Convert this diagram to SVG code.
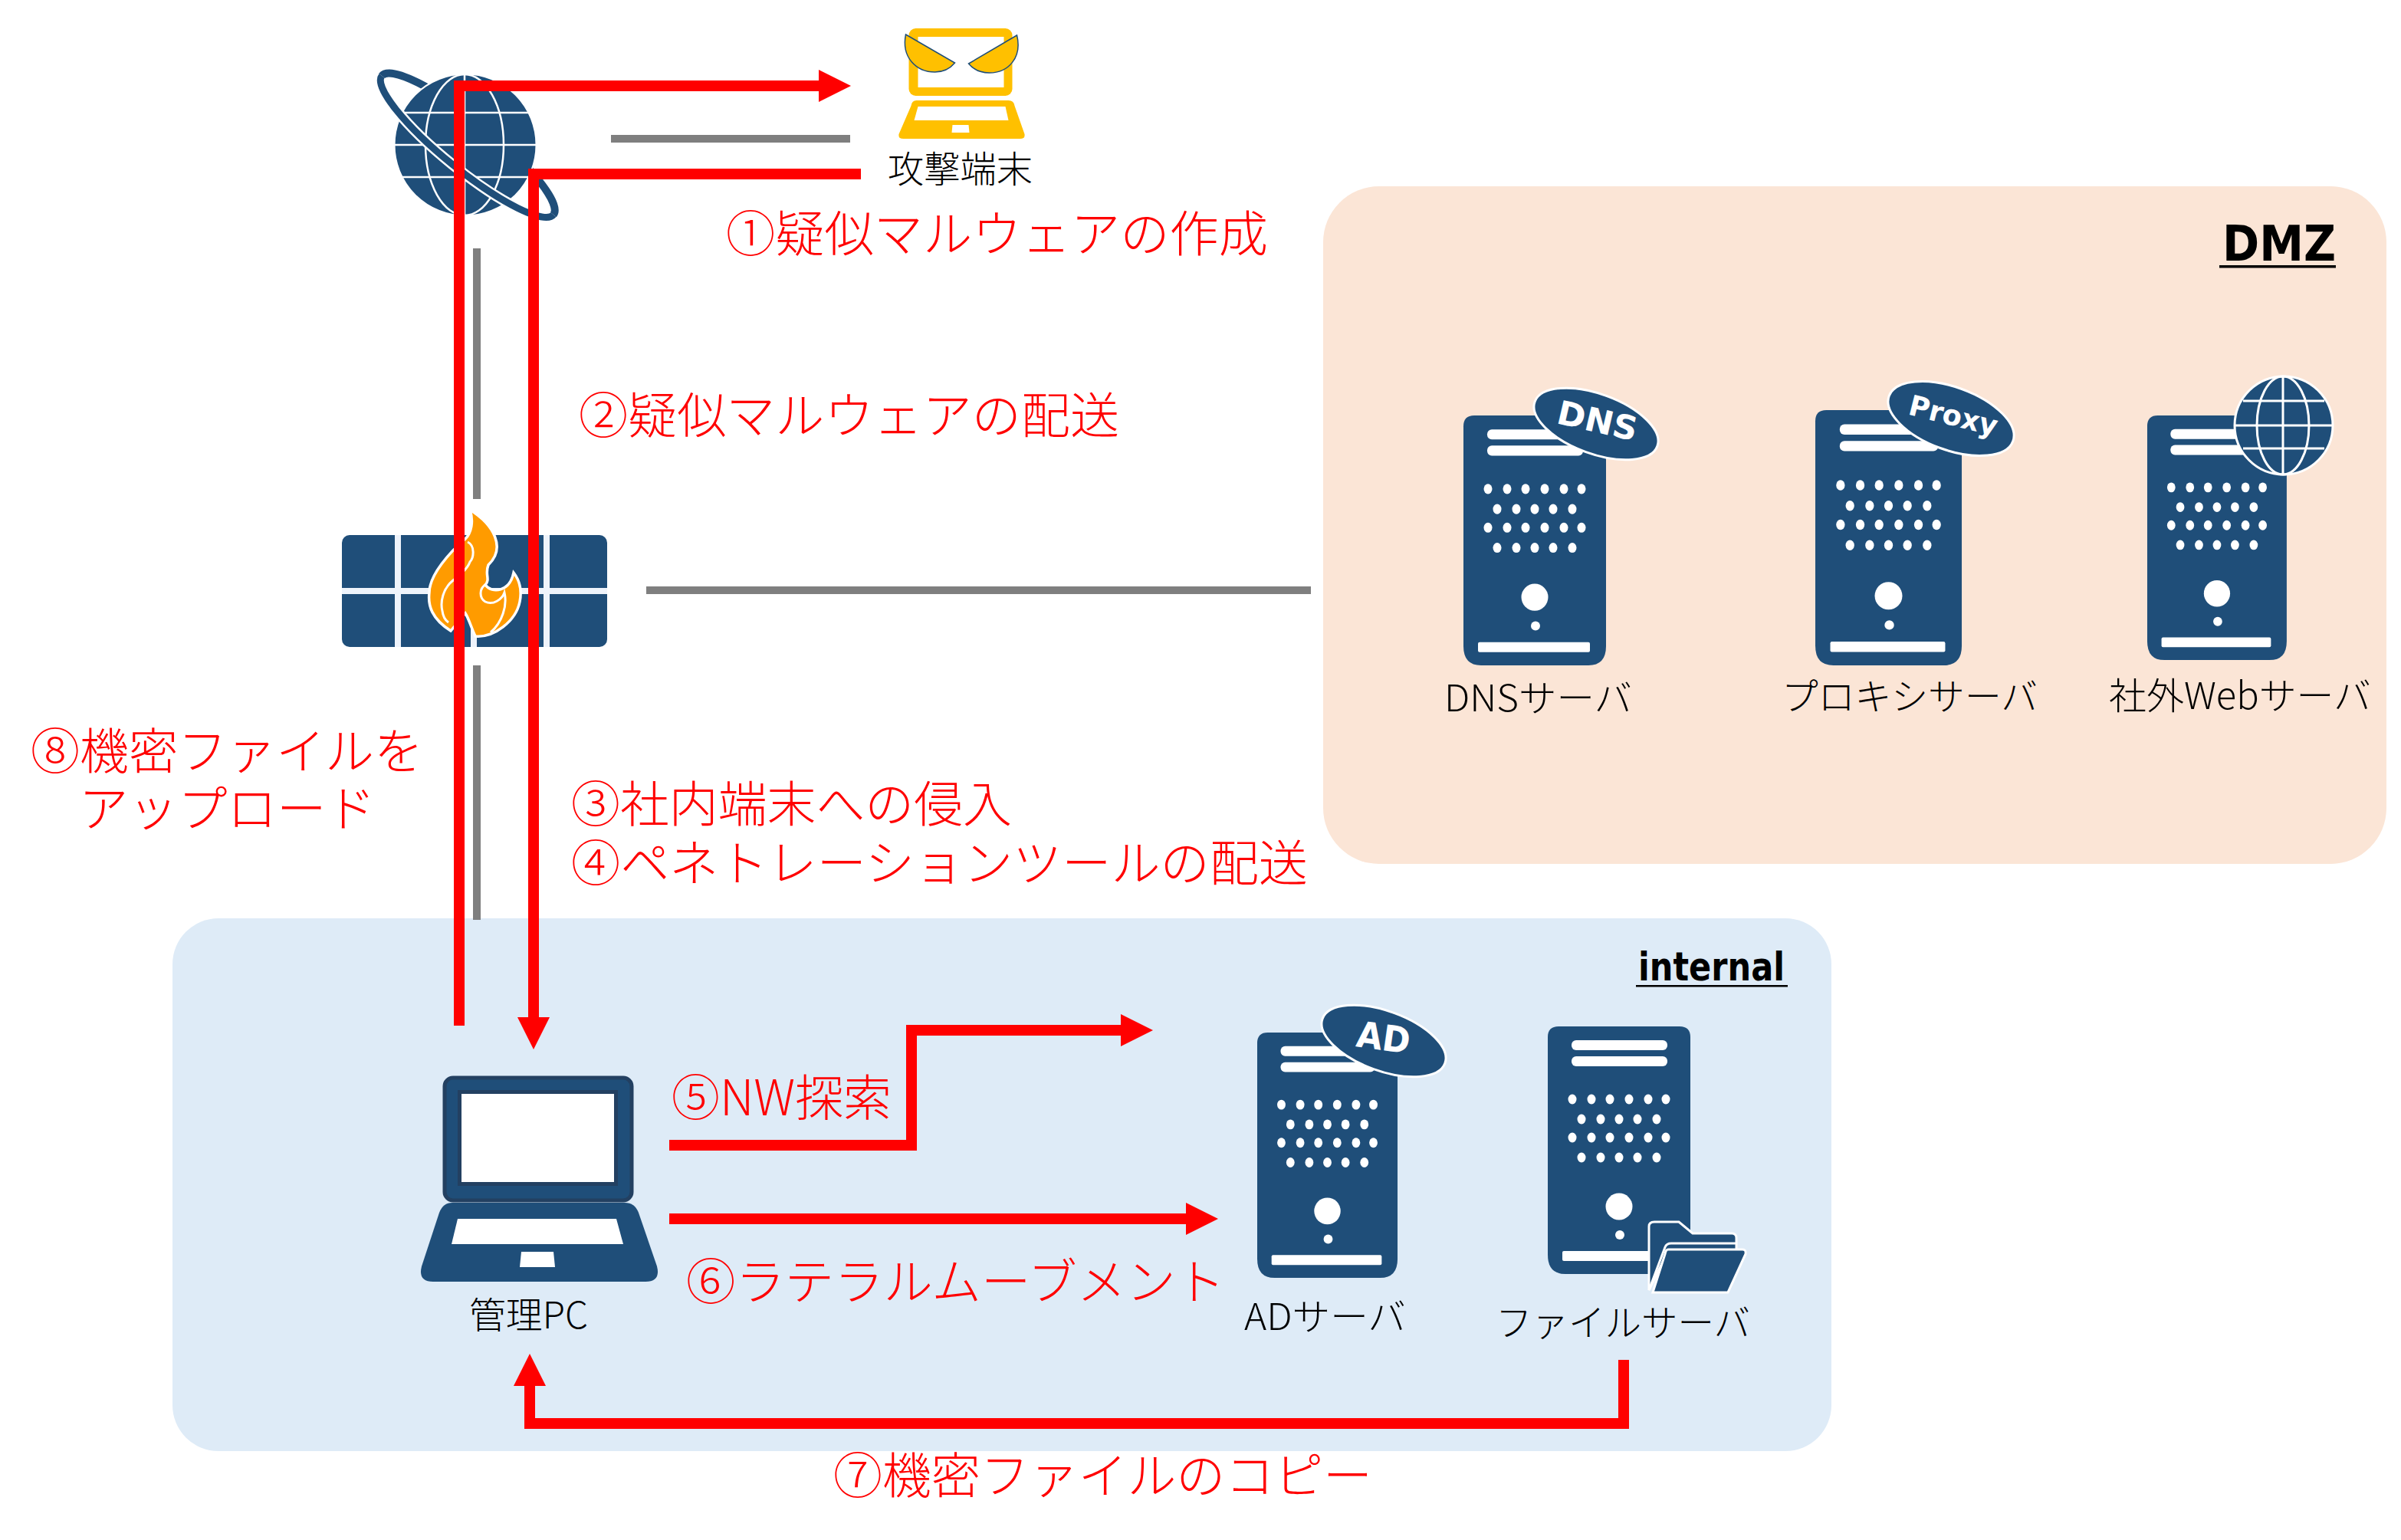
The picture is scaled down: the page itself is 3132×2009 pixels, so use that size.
<svg xmlns="http://www.w3.org/2000/svg" xmlns:xlink="http://www.w3.org/1999/xlink" width="3132" height="2009" viewBox="0 0 3132 2009">
<style>
text{font-family:"Noto Sans CJK JP","Noto Sans",sans-serif;font-weight:300}
.lbl{font-size:48px;fill:#000}
.step{font-size:64px;fill:#f00}
text.hd{font-family:"DejaVu Sans",sans-serif;font-weight:700;fill:#000}
text.tag{font-family:"DejaVu Sans",sans-serif;font-weight:700;fill:#fff}
.blue{fill:#1f4e79}
.wht{fill:#fff}
.grid{fill:none;stroke:#fff;stroke-width:3}
.badge{fill:#1f4e79;stroke:#fff;stroke-width:3}
.red{fill:none;stroke:#f00;stroke-width:14;stroke-linejoin:miter}
.arrow{marker-end:url(#head)}
.grey{fill:none;stroke:#7f7f7f;stroke-width:10}
.fl{fill:none;stroke:#fff;stroke-width:3}
</style>
<defs>
<marker id="head" viewBox="0 0 42 42" refX="0" refY="21" markerWidth="42" markerHeight="42" markerUnits="userSpaceOnUse" orient="auto"><path d="M0 0L42 21L0 42z" fill="#f00"/></marker>
<g id="srv">
<path class="blue" d="M14 0H172Q186 0 186 14V298Q186 323 163 323H23Q0 323 0 298V14Q0 0 14 0z"/>
<rect class="wht" x="31" y="18" width="125" height="13" rx="6"/>
<rect class="wht" x="31" y="39" width="125" height="13" rx="6"/>
<g class="wht">
<ellipse cx="32" cy="95" rx="5.5" ry="6.5"/><ellipse cx="57" cy="95" rx="5.5" ry="6.5"/><ellipse cx="81" cy="95" rx="5.5" ry="6.5"/><ellipse cx="106" cy="95" rx="5.5" ry="6.5"/><ellipse cx="131" cy="95" rx="5.5" ry="6.5"/><ellipse cx="154" cy="95" rx="5.5" ry="6.5"/>
<ellipse cx="44" cy="121" rx="5.5" ry="6.5"/><ellipse cx="69" cy="121" rx="5.5" ry="6.5"/><ellipse cx="93" cy="121" rx="5.5" ry="6.5"/><ellipse cx="117" cy="121" rx="5.5" ry="6.5"/><ellipse cx="142" cy="121" rx="5.5" ry="6.5"/>
<ellipse cx="32" cy="145" rx="5.5" ry="6.5"/><ellipse cx="57" cy="145" rx="5.5" ry="6.5"/><ellipse cx="81" cy="145" rx="5.5" ry="6.5"/><ellipse cx="106" cy="145" rx="5.5" ry="6.5"/><ellipse cx="131" cy="145" rx="5.5" ry="6.5"/><ellipse cx="154" cy="145" rx="5.5" ry="6.5"/>
<ellipse cx="44" cy="171" rx="5.5" ry="6.5"/><ellipse cx="69" cy="171" rx="5.5" ry="6.5"/><ellipse cx="93" cy="171" rx="5.5" ry="6.5"/><ellipse cx="117" cy="171" rx="5.5" ry="6.5"/><ellipse cx="142" cy="171" rx="5.5" ry="6.5"/>
<ellipse cx="93" cy="235" rx="17.5" ry="17.5"/><ellipse cx="94" cy="272" rx="6" ry="6"/>
<rect x="19" y="293" width="146" height="13" rx="2"/>
</g>
</g>
</defs>

<g id="panels">
<rect id="dmz-zone" x="1726" y="243" width="1387" height="884" rx="73" fill="#fbe5d6"/>
<rect id="internal-zone" x="225" y="1198" width="2164" height="695" rx="60" fill="#deebf7"/>
</g>
<g id="zone-labels">
<text class="hd" x="2899" y="340" font-size="64" textLength="148" lengthAdjust="spacingAndGlyphs">DMZ</text>
<rect x="2895" y="346" width="152" height="3.5" fill="#000"/>
<text class="hd" x="2137" y="1279" font-size="52" textLength="191" lengthAdjust="spacingAndGlyphs">internal</text>
<rect x="2134" y="1285" width="198" height="2.5" fill="#000"/>
</g>

<g id="internet">
<ellipse cx="610" cy="189.5" rx="144" ry="32" transform="rotate(39 610 189.5)" fill="none" stroke="#1f4e79" stroke-width="10"/>
<circle cx="607" cy="189" r="92.5" fill="#1f4e79" stroke="#fff" stroke-width="2"/>
<g class="grid" style="stroke-width:2.5">
<path d="M519 147H695M515 189H699M519 231H695M606 97V282"/>
<ellipse cx="606" cy="189" rx="51" ry="92"/>
</g>
<g transform="rotate(39 610 189.5)">
<path d="M466 189.5A144 32 0 0 0 754 189.5" fill="none" stroke="#fff" stroke-width="14"/>
<path d="M466 189.5A144 32 0 0 0 754 189.5" fill="none" stroke="#1f4e79" stroke-width="9"/>
</g>
</g>

<g id="attacker">
<g transform="translate(-4.5 0)">
<rect x="1190" y="37" width="135" height="88" rx="9" fill="#ffc000"/>
<rect x="1202" y="48" width="112" height="66" fill="#fff"/>
<path d="M1200 131H1320Q1327 131 1328 138L1341 175Q1342 181 1335 181H1183Q1176 181 1177 175L1193 138Q1194 131 1200 131z" fill="#ffc000"/>
<path d="M1202 139H1316L1320 157H1197z" fill="#fff"/>
<path d="M1247 163H1268L1269 173H1246z" fill="#fff"/>
<path d="M1186 45L1250 82Q1240 94 1224 94C1200 94 1180 75 1186 45z" fill="#ffc000" stroke="#1f4e79" stroke-width="1.5"/>
<path d="M1331 46L1268 83Q1278 95 1295 95C1320 95 1338 75 1331 46z" fill="#ffc000" stroke="#1f4e79" stroke-width="1.5"/>
</g>
<text class="lbl" x="1158" y="238" textLength="189" lengthAdjust="spacingAndGlyphs">攻撃端末</text>
</g>

<g id="firewall">
<rect x="446" y="698" width="346" height="146" rx="10" class="blue"/>
<path d="M519 698V844M618 698V844M713 698V844M446 771H792" fill="none" stroke="#eef3fb" stroke-width="8"/>
<path d="M613 665C645 685 660 715 637 737C632 750 640 755 633 763C642 775 665 772 670 747C680 760 680 775 678 785C673 810 645 832 620 830C613 815 612 808 607 800L588 823C563 807 558 790 560 773C560 750 587 720 607 703C615 695 618 680 613 665z" fill="#ff9b00" stroke="#fff" stroke-width="3.5"/>
<path class="fl" d="M610 707C620 712 618 728 613 733C610 742 600 750 590 758C578 768 574 785 577 797C578 805 582 810 585 812"/>
<path class="fl" d="M633 763C625 768 625 780 633 785C643 790 655 782 658 773C662 790 655 812 640 825"/>
</g>

<g id="dns-server">
<use xlink:href="#srv" href="#srv" transform="translate(1909 542) scale(1 1.009)"/>
<ellipse class="badge" cx="2082" cy="553" rx="85" ry="39" transform="rotate(20 2082 553)"/>
<text class="tag" x="2084" y="564" font-size="43" text-anchor="middle" transform="rotate(13 2084 548)" textLength="106" lengthAdjust="spacingAndGlyphs">DNS</text>
<text class="lbl" x="1884" y="928" textLength="245" lengthAdjust="spacingAndGlyphs">DNSサーバ</text>
</g>
<g id="proxy-server">
<use xlink:href="#srv" href="#srv" transform="translate(2368 535) scale(1.027 1.031)"/>
<ellipse class="badge" cx="2545" cy="546" rx="86" ry="41" transform="rotate(20 2545 546)"/>
<text class="tag" x="2548" y="555" font-size="37" text-anchor="middle" transform="rotate(14 2548 543)" textLength="118" lengthAdjust="spacingAndGlyphs">Proxy</text>
<text class="lbl" x="2324" y="926" textLength="334" lengthAdjust="spacingAndGlyphs">プロキシサーバ</text>
</g>
<g id="web-server">
<use xlink:href="#srv" href="#srv" transform="translate(2801 542) scale(.978 .988)"/>
<circle cx="2979" cy="555" r="64" class="badge"/>
<g class="grid">
<path d="M2926 523H3032M2915 555H3043M2926 585H3032M2978 491V619"/>
<ellipse cx="2978" cy="555" rx="34" ry="64"/>
</g>
<text class="lbl" x="2751" y="925" textLength="342" lengthAdjust="spacingAndGlyphs">社外Webサーバ</text>
</g>
<g id="ad-server">
<use xlink:href="#srv" href="#srv" transform="translate(1640 1347) scale(.984 .991)"/>
<ellipse class="badge" cx="1805" cy="1358" rx="85" ry="39" transform="rotate(20 1805 1358)"/>
<text class="tag" x="1805" y="1370" font-size="47" text-anchor="middle" transform="rotate(8 1805 1352)" textLength="70" lengthAdjust="spacingAndGlyphs">AD</text>
<text class="lbl" x="1623" y="1735" textLength="211" lengthAdjust="spacingAndGlyphs">ADサーバ</text>
</g>
<g id="file-server">
<use xlink:href="#srv" href="#srv" transform="translate(2019 1339)"/>
<path class="badge" d="M2151 1683V1600Q2151 1594 2158 1594H2190L2208 1609H2259Q2265 1609 2265 1615V1640H2172z"/>
<path d="M2151 1683L2172 1627Q2174 1622 2180 1622H2266" fill="none" stroke="#fff" stroke-width="3"/>
<path class="badge" d="M2176 1630H2273Q2278 1630 2277 1636L2254 1686H2156L2172 1636Q2173 1630 2176 1630z"/>
<text class="lbl" x="1951" y="1743" textLength="332" lengthAdjust="spacingAndGlyphs">ファイルサーバ</text>
</g>
<g id="admin-pc">
<rect x="580" y="1406" width="244" height="160" rx="11" fill="#1f4e79" stroke="#234061" stroke-width="5"/>
<rect x="597" y="1422" width="209" height="125" fill="#234061"/>
<rect x="602" y="1427" width="199" height="115" fill="#fff"/>
<path class="blue" d="M590 1569H815Q828 1569 833 1582L857 1652Q862 1672 842 1672H565Q545 1672 550 1652L573 1582Q578 1569 590 1569z"/>
<path d="M597 1590H804L813 1623H589z" fill="#fff"/>
<path d="M680 1633H722L724 1653H678z" fill="#fff"/>
<text class="lbl" x="612" y="1733" textLength="155" lengthAdjust="spacingAndGlyphs">管理PC</text>
</g>

<g id="connectors">
<path class="grey" d="M797 181H1109"/>
<path class="grey" d="M622 324V651"/>
<path class="grey" d="M622 868V1200"/>
<path class="grey" d="M843 770H1710"/>
<path class="red arrow" d="M599 1338V112H1068"/>
<path class="red arrow" d="M1123 227H696V1327"/>
<path class="red arrow" d="M873 1494H1189V1344H1462"/>
<path class="red arrow" d="M873 1590H1547"/>
<path class="red arrow" d="M2118 1774V1857H691V1808"/>
</g>

<g id="step-labels">
<text class="step" x="947" y="328" textLength="707" lengthAdjust="spacingAndGlyphs">①疑似マルウェアの作成</text>
<text class="step" x="755" y="565" textLength="705" lengthAdjust="spacingAndGlyphs">②疑似マルウェアの配送</text>
<text class="step" x="745" y="1072" textLength="575" lengthAdjust="spacingAndGlyphs">③社内端末への侵入</text>
<text class="step" x="745" y="1149" textLength="961" lengthAdjust="spacingAndGlyphs">④ペネトレーションツールの配送</text>
<text class="step" x="876" y="1455" textLength="287" lengthAdjust="spacingAndGlyphs">⑤NW探索</text>
<text class="step" x="895" y="1695" textLength="703" lengthAdjust="spacingAndGlyphs">⑥ラテラルムーブメント</text>
<text class="step" x="1087" y="1948" textLength="703" lengthAdjust="spacingAndGlyphs">⑦機密ファイルのコピー</text>
<text class="step" x="40" y="1003" textLength="512" lengthAdjust="spacingAndGlyphs">⑧機密ファイルを</text>
<text class="step" x="103" y="1078" textLength="387" lengthAdjust="spacingAndGlyphs">アップロード</text>
</g>
</svg>
